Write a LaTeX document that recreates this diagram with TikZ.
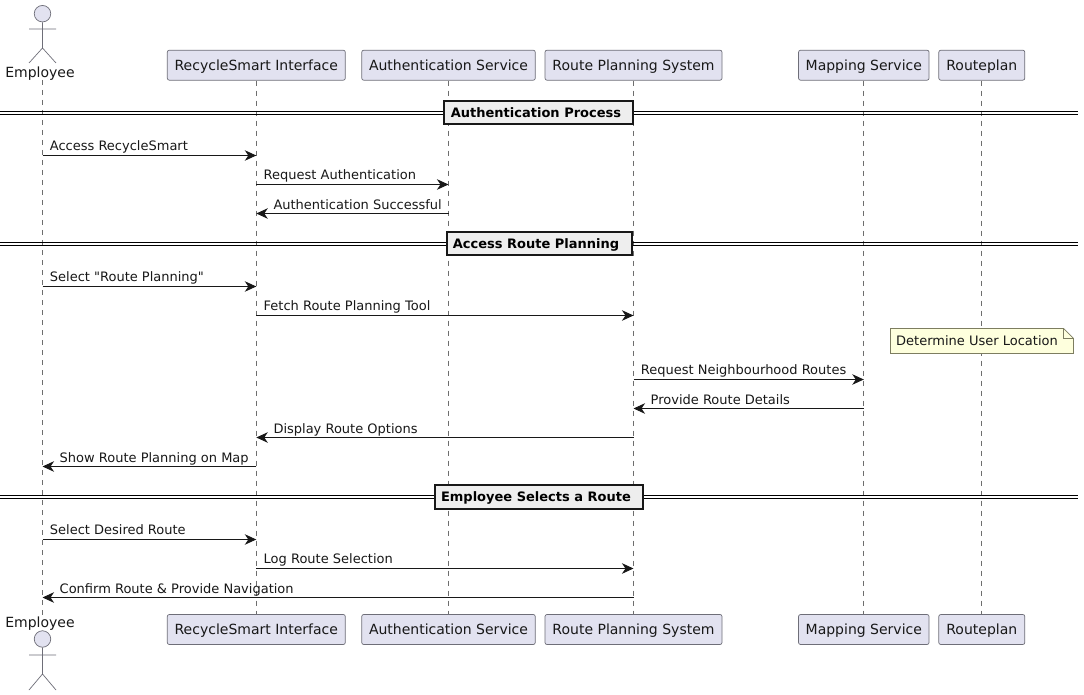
\documentclass[tikz,border=0pt]{standalone}
\usepackage{fontspec}
\setmainfont{DejaVu Sans}
\newfontfamily\plainquote{DejaVu Sans}
\usetikzlibrary{arrows.meta,calc}
\definecolor{partfill}{HTML}{E2E2F0}
\definecolor{partline}{HTML}{6E6E78}
\definecolor{lifeline}{HTML}{6E6E6E}
\definecolor{notefill}{HTML}{FEFFDD}
\definecolor{noteline}{HTML}{7D7D60}
\definecolor{divfill}{HTML}{EEEEEE}
\definecolor{ink}{HTML}{181818}
\tikzset{
  partbox/.style={draw=partline,fill=partfill,rounded corners=2pt,line width=0.7pt,minimum height=30pt,inner sep=0pt,text=ink,font=\fontsize{14}{16}\selectfont,text height=13pt,text depth=3pt},
  lifedash/.style={draw=lifeline,line width=0.7pt,dash pattern=on 5pt off 5pt},
  msgline/.style={draw=ink,line width=1pt,-{Stealth[length=11.5pt,width=10.5pt,inset=3.5pt]}},
  msgtext/.style={anchor=base west,inner sep=0pt,text=ink,font=\fontsize{13}{15}\selectfont},
  actorline/.style={draw=partline,line width=0.7pt},
  actorhead/.style={draw=partline,fill=partfill,line width=0.7pt,circle,minimum size=16.5pt,inner sep=0pt},
  actortext/.style={anchor=base,inner sep=0pt,text=ink,font=\fontsize{14}{16}\selectfont},
  divbox/.style={draw=ink,fill=divfill,line width=2pt,inner sep=0pt,text=black,font=\bfseries\fontsize{13}{15}\selectfont,text height=12pt,text depth=3pt},
  divline/.style={draw=black,line width=1pt},
  notetext/.style={anchor=base west,inner sep=0pt,text=ink,font=\fontsize{13}{15}\selectfont},
}
\newcommand{\sendright}[4]{%
  \draw[msgline] (#1|-0,#3.5) -- (#2|-0,#3.5);
  \node[msgtext] at ($(#1|-0,#3.5)+(7.2,-4.6)$) {#4};}
\newcommand{\sendleft}[4]{%
  \draw[msgline] (#1|-0,#3.5) -- (#2|-0,#3.5);
  \node[msgtext] at ($(#2|-0,#3.5)+(17,-4.3)$) {#4};}
\begin{document}
\begin{tikzpicture}[x=1pt,y=-1pt]
\useasboundingbox (0,0) rectangle (1084,695);
\fill[white] (0,0) rectangle (1084,695);
% top participants
\coordinate (emp) at (42.5,80);
\node[partbox,minimum width=178pt] (ui) at (256.3,65.2) {RecycleSmart Interface};
\node[partbox,minimum width=173.5pt] (auth) at (448.5,65.2) {Authentication Service};
\node[partbox,minimum width=177pt] (route) at (633.5,65.2) {Route Planning System};
\node[partbox,minimum width=130.5pt] (map) at (863.8,65.2) {Mapping Service};
\node[partbox,minimum width=86pt] (plan) at (981.8,65.2) {Routeplan};
% bottom participants
\coordinate (empb) at (42.5,615);
\node[partbox,minimum width=178pt] (uib) at (256.3,629.5) {RecycleSmart Interface};
\node[partbox,minimum width=173.5pt] (authb) at (448.5,629.5) {Authentication Service};
\node[partbox,minimum width=177pt] (routeb) at (633.5,629.5) {Route Planning System};
\node[partbox,minimum width=130.5pt] (mapb) at (863.8,629.5) {Mapping Service};
\node[partbox,minimum width=86pt] (planb) at (981.8,629.5) {Routeplan};
% lifelines
\draw[lifedash] (emp) -- (empb);
\draw[lifedash] (ui.south) -- (uib.north);
\draw[lifedash] (auth.south) -- (authb.north);
\draw[lifedash] (route.south) -- (routeb.north);
\draw[lifedash] (map.south) -- (mapb.north);
\draw[lifedash] (plan.south) -- (planb.north);
% actors
\node[actorhead] (headt) at (42.5,13.7) {};
\draw[actorline] (headt.south) -- (42.5,48) -- (29,63) (42.5,48) -- (56,63) (29,29) -- (56,29);
\node[actortext] (empt) at (40,78) {Employee};
\node[actorhead] (headb) at (42.5,639) {};
\draw[actorline] (headb.south) -- (42.5,674) -- (29,690) (42.5,674) -- (56,690) (29,655) -- (56,655);
\node[actortext] (empbt) at (40,627.3) {Employee};
% dividers
\draw[divline] (0,111.5) -- (1078,111.5) (0,114.5) -- (1078,114.5);
\node[divbox,minimum width=189pt,minimum height=23pt] (d1) at (538.8,112.9) {Authentication Process\kern5.6pt};
\draw[divline] (0,242.5) -- (1078,242.5) (0,245.5) -- (1078,245.5);
\node[divbox,minimum width=185pt,minimum height=23pt] (d2) at (539,243.5) {Access Route Planning\kern6pt};
\draw[divline] (0,495.5) -- (1078,495.5) (0,498.5) -- (1078,498.5);
\node[divbox,minimum width=208pt,minimum height=24pt] (d3) at (539,497) {Employee Selects a Route\kern6pt};
% messages
\sendright{emp}{ui}{155}{Access RecycleSmart}
\sendright{ui}{auth}{184}{Request Authentication}
\sendleft{auth}{ui}{213}{Authentication Successful}
\sendright{emp}{ui}{286}{Select {\plainquote"}Route Planning{\plainquote"}}
\sendright{ui}{route}{315}{Fetch Route Planning Tool}
\sendright{route}{map}{379}{Request Neighbourhood Routes}
\sendleft{map}{route}{408}{Provide Route Details}
\sendleft{route}{ui}{437}{Display Route Options}
\sendleft{ui}{emp}{466}{Show Route Planning on Map}
\sendright{emp}{ui}{539}{Select Desired Route}
\sendright{ui}{route}{568}{Log Route Selection}
\sendleft{route}{emp}{597}{Confirm Route \& Provide Navigation}
% note
\draw[draw=noteline,fill=notefill,line width=0.7pt] (890.5,328.5) -- (1063.5,328.5) -- (1073.5,338.5) -- (1073.5,353.5) -- (890.5,353.5) -- cycle;
\draw[draw=noteline,line width=0.7pt] (1063.5,328.5) -- (1063.5,338.5) -- (1073.5,338.5);
\node[notetext] (nt) at (896,345.5) {Determine User Location};
\end{tikzpicture}
\end{document}
